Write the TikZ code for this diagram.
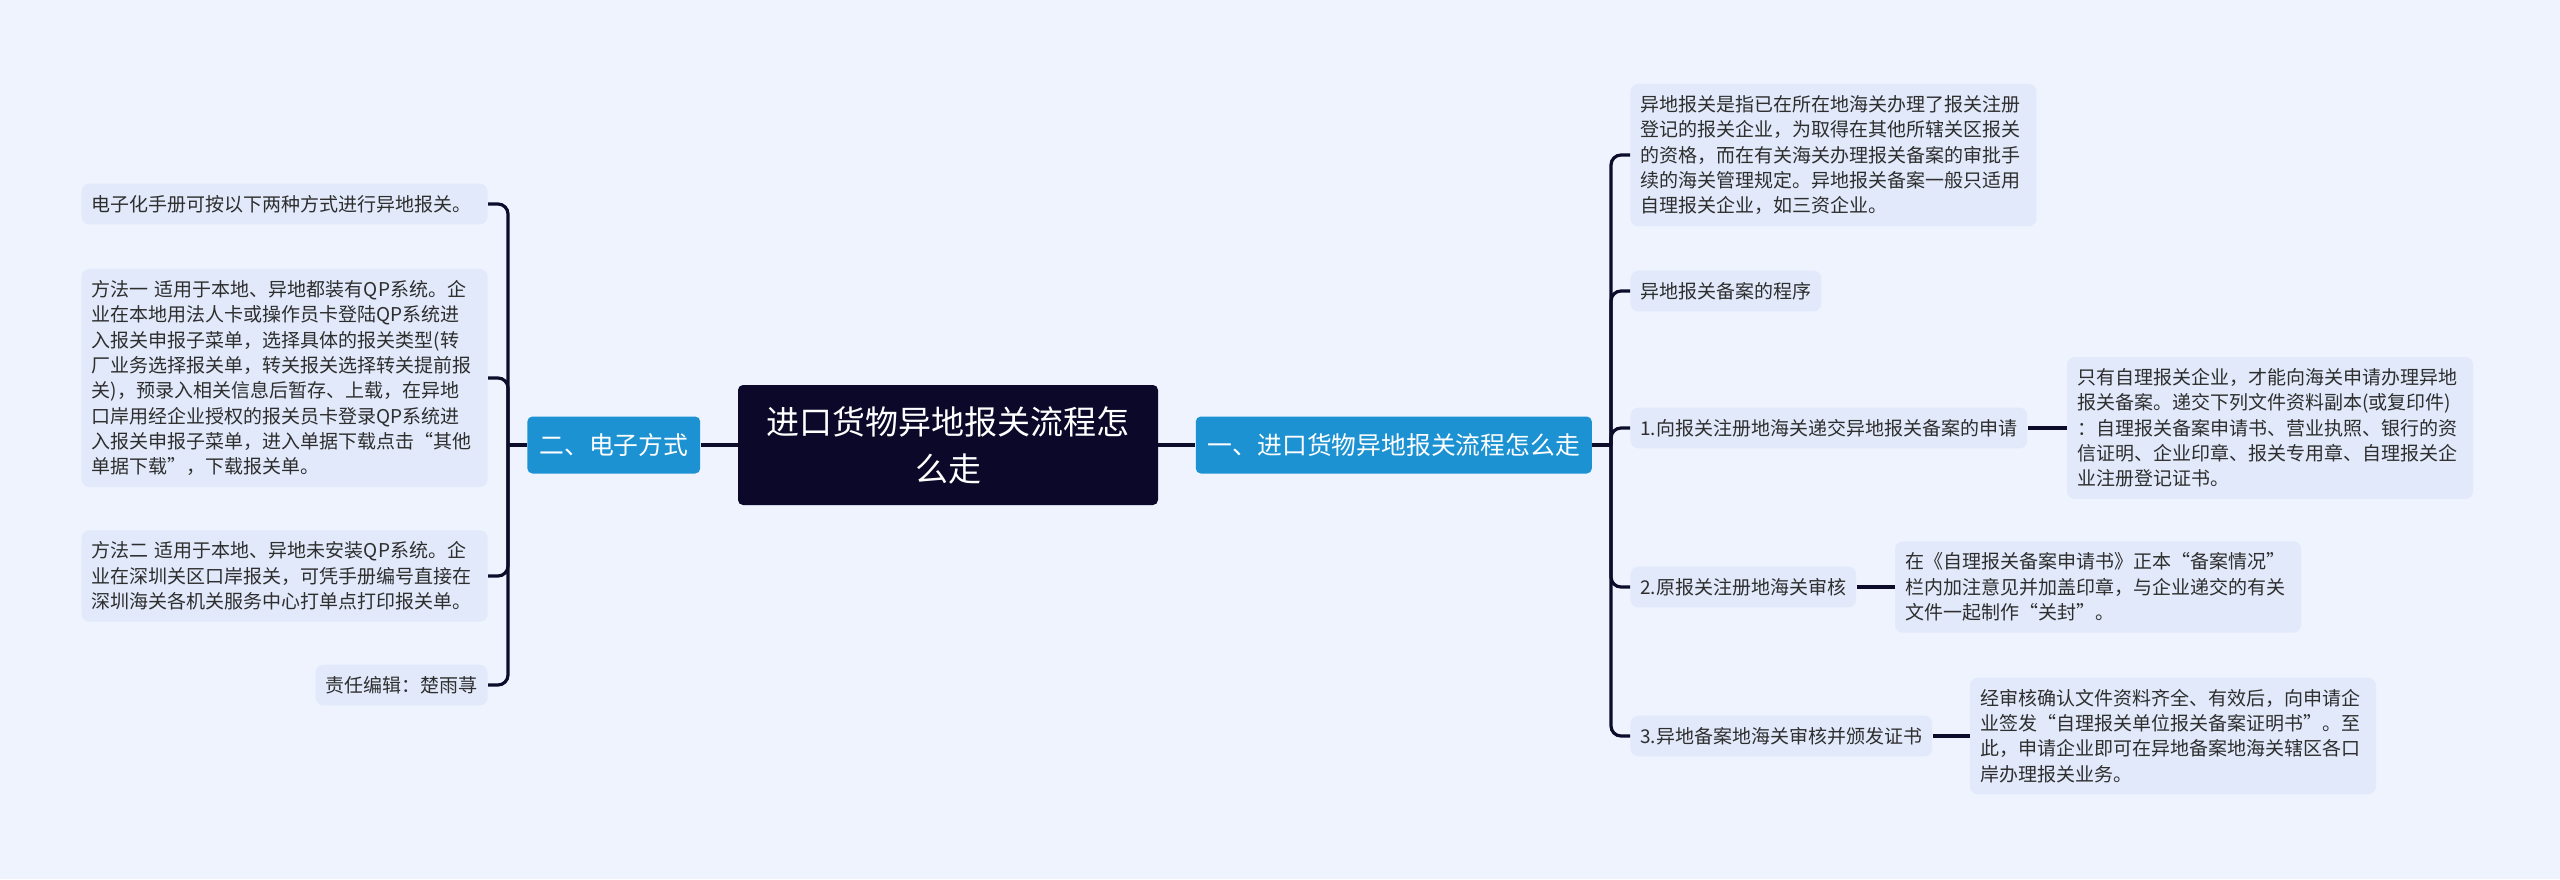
\documentclass[tikz,border=0pt]{standalone}
\usepackage{fontspec}
\setmainfont{Noto Sans CJK SC}
\usetikzlibrary{positioning}
\definecolor{mapbg}{HTML}{EEF3FE}
\definecolor{mapleaf}{HTML}{E1E9FA}
\definecolor{mapnavy}{HTML}{0B0829}
\definecolor{mapblue}{HTML}{1C92D2}
\definecolor{mapline}{HTML}{0D0D2B}

\begin{document}
\begin{tikzpicture}[%
		x=0.5pt, y=-0.5pt,
		topic/.style={
			rectangle,
			rounded corners=2.5pt,
			fill=mapnavy,
			text=white,
			align=center,
			minimum width=210pt,
			minimum height=60pt,
			inner sep=0pt,
			font=\fontsize{16.5}{23.5}\selectfont
		},
		branch/.style={
			rectangle,
			rounded corners=2.5pt,
			fill=mapblue,
			text=white,
			inner xsep=6pt,
			minimum height=28.5pt,
			font=\fontsize{12.4}{16}\selectfont
		},
		leaf/.style={
			rectangle,
			rounded corners=4pt,
			fill=mapleaf,
			text=black!82,
			align=left,
			inner xsep=5pt,
			inner ysep=5.75pt,
			font=\fontsize{9.5}{12.65}\selectfont
		},
		wide/.style={
			text width=193pt
		},
		link/.style={
			draw=mapline,
			line width=1.6pt,
			rounded corners=5pt
		}]

		\useasboundingbox (0,0) rectangle (2560,879);
		\fill[mapbg] (0,0) rectangle (2560,879);

		% CENTRE
		\node (root) [topic] at (948,445) {进口货物异地报关流程怎\\么走};
		\node (m2) [branch, left=18.5pt of root] {二、电子方式};
		\node (m1) [branch, right=18.5pt of root] {一、进口货物异地报关流程怎么走};

		\coordinate (jL) at (508,445);
		\coordinate (jR) at (1611,445);

		% LEFT LEAVES
		\node (L1) [leaf, wide, anchor=east] at (488,204) {电子化手册可按以下两种方式进行异地报关。};
		\node (L2) [leaf, wide, anchor=east] at (488,378) {方法一~适用于本地、异地都装有QP系统。企\\业在本地用法人卡或操作员卡登陆QP系统进\\入报关申报子菜单，选择具体的报关类型(转\\厂业务选择报关单，转关报关选择转关提前报\\关)，预录入相关信息后暂存、上载，在异地\\口岸用经企业授权的报关员卡登录QP系统进\\入报关申报子菜单，进入单据下载点击“其他\\单据下载”，下载报关单。};
		\node (L3) [leaf, wide, anchor=east] at (488,576) {方法二~适用于本地、异地未安装QP系统。企\\业在深圳关区口岸报关，可凭手册编号直接在\\深圳海关各机关服务中心打单点打印报关单。};
		\node (L4) [leaf, anchor=east] at (488,685) {责任编辑：楚雨荨};

		% RIGHT LEAVES
		\node (R1) [leaf, wide, anchor=west] at (1630,155) {异地报关是指已在所在地海关办理了报关注册\\登记的报关企业，为取得在其他所辖关区报关\\的资格，而在有关海关办理报关备案的审批手\\续的海关管理规定。异地报关备案一般只适用\\自理报关企业，如三资企业。};
		\node (R2) [leaf, anchor=west] at (1630,291) {异地报关备案的程序};
		\node (R3) [leaf, anchor=west] at (1630,428) {1.向报关注册地海关递交异地报关备案的申请};
		\node (R4) [leaf, anchor=west] at (1630,587) {2.原报关注册地海关审核};
		\node (R5) [leaf, anchor=west] at (1630,736) {3.异地备案地海关审核并颁发证书};

		\node (R3c) [leaf, wide, right=19.5pt of R3] {只有自理报关企业，才能向海关申请办理异地\\报关备案。递交下列文件资料副本(或复印件)\\：自理报关备案申请书、营业执照、银行的资\\信证明、企业印章、报关专用章、自理报关企\\业注册登记证书。};
		\node (R4c) [leaf, wide, right=19pt of R4] {在《自理报关备案申请书》正本“备案情况”\\栏内加注意见并加盖印章，与企业递交的有关\\文件一起制作“关封”。};
		\node (R5c) [leaf, wide, right=18.5pt of R5] {经审核确认文件资料齐全、有效后，向申请企\\业签发“自理报关单位报关备案证明书”。至\\此，申请企业即可在异地备案地海关辖区各口\\岸办理报关业务。};

		% LINES
		\draw[link] (root) -- (m2);
		\draw[link] (root) -- (m1);
		\draw[link] (m2.west) -- (jL);
		\draw[link] (m1.east) -- (jR);
		\foreach \n in {L1,L2,L3,L4}
			\draw[link] (jL) |- (\n.east);
		\foreach \n in {R1,R2,R3,R4,R5}
			\draw[link] (jR) |- (\n.west);
		\draw[link] (R3) -- (R3c);
		\draw[link] (R4) -- (R4c);
		\draw[link] (R5) -- (R5c);
\end{tikzpicture}
\end{document}
